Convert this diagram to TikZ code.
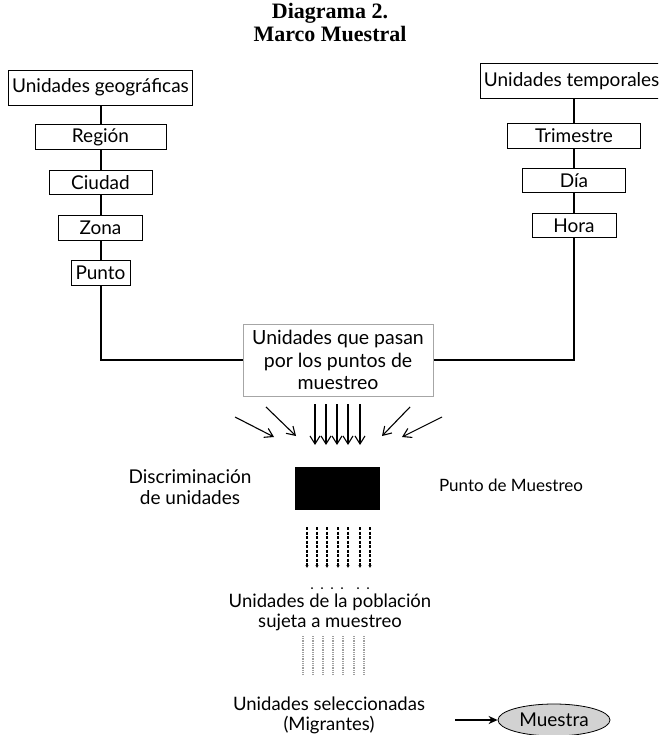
\documentclass[tikz,border=0pt]{standalone}
\usepackage{fontspec}
\setmainfont{Liberation Serif}
\setsansfont{Lato}
\usetikzlibrary{arrows.meta, positioning, shapes.geometric}

\tikzset{
  unitbox/.style={draw, line width=0.8pt, minimum height=24.5pt, inner sep=1.5pt,
    font=\sffamily\fontsize{19}{22}\selectfont},
  topbox/.style={unitbox, minimum height=35pt, inner sep=3.5pt},
  tree/.style={line width=2pt},
  flow/.style={line width=1.1pt, -{Straight Barb[length=8pt,width=10pt]}},
  passed/.style={line width=1.4pt, dash pattern=on 3pt off 1.5pt,
    -{Latex[length=3pt,width=3.5pt]}},
  sampled/.style={line width=1.8pt, gray!75, dash pattern=on 1pt off 0.8pt},
  caption/.style={font=\sffamily\fontsize{18.5}{20}\selectfont, align=center},
}

\begin{document}
\begin{tikzpicture}[x=1pt, y=-1pt, node distance=20pt]
\path[use as bounding box, clip] (0,0) rectangle (658,735);

% title
\node (title) [font=\bfseries\fontsize{22}{23}\selectfont, align=center] at (330,23)
{Diagrama 2.\\Marco Muestral};

% geographic units
\node (geo) [topbox] at (100.5,87.5) {Unidades geográficas};
\node (region) [unitbox, minimum width=131pt, below=19pt of geo] {Región};
\node (city) [unitbox, minimum width=103pt, below=of region] {Ciudad};
\node (zone) [unitbox, minimum width=84pt, below=of city] {Zona};
\node (spot) [unitbox, minimum width=59pt, below=of zone] {Punto};

% time units
\node (time) [topbox, anchor=west] at (480,81) {Unidades temporales};
\node (quarter) [unitbox, minimum width=133pt] at (574,136) {Trimestre};
\node (day) [unitbox, minimum width=103pt, below=19pt of quarter] {Día};
\node (hour) [unitbox, minimum width=84pt, below=of day] {Hora};

% passing units
\node (passing) [draw=gray!70, line width=1pt, minimum width=190pt, minimum height=72pt,
  caption, font=\sffamily\fontsize{19.5}{22.5}\selectfont] at (338,360)
{Unidades que pasan\\por los puntos de\\muestreo};

\draw[tree] (geo) -- (region) -- (city) -- (zone) -- (spot);
\draw[tree] (spot.south) |- (passing.west);
\draw[tree] (quarter.north |- time.south) -- (quarter) -- (day) -- (hour);
\draw[tree] (hour.south) |- (passing.east);

% converging flows
\foreach \sx/\sy/\ex/\ey [count=\i] in {235/417/274/437, 266/407/296/436,
  410/407/382/436, 442/417/402/437} {
  \coordinate (from\i) at (\sx,\sy);
  \coordinate (to\i) at (\ex,\ey);
  \draw[flow] (from\i) -- (to\i);
}
\foreach \x [count=\i] in {315,326,337,348,360} {
  \coordinate (down\i) at (\x,404);
  \coordinate (downend\i) at (\x,445);
  \draw[flow] (down\i) -- (downend\i);
}

% sampling point
\node (point) [fill=black, minimum width=85pt, minimum height=43pt] at (337.5,488.5) {};
\node (discr) [caption, font=\sffamily\fontsize{19}{21}\selectfont] at (190,487)
{Discriminación\\de unidades};
\node (pointlabel) [caption, font=\sffamily\fontsize{17}{20}\selectfont] at (511,485)
{Punto de Muestreo};

\foreach \x [count=\i] in {307,317,327,338,348,360,370} {
  \coordinate (pass\i) at (\x,527);
  \coordinate (passend\i) at (\x,568);
  \draw[passed] (pass\i) -- (passend\i);
}
\foreach \x in {312,322,332,342,358,368}
  \fill (\x,588) circle (1pt);

% population and sample
\node (population) [caption] at (330,612) {Unidades de la población\\sujeta a muestreo};
\foreach \x [count=\i] in {303,313,323,333,343,354,364} {
  \coordinate (pop\i) at (\x,636);
  \coordinate (popend\i) at (\x,675);
  \draw[sampled] (pop\i) -- (popend\i);
}
\node (selected) [caption] at (329,715) {Unidades seleccionadas\\(Migrantes)};
\node (sample) [ellipse, draw, line width=0.8pt, fill=gray!35, minimum width=112pt,
  minimum height=32pt, inner sep=1pt, font=\sffamily\fontsize{19}{22}\selectfont]
  at (554,720) {Muestra};
\coordinate (selectarrow) at (455,720);
\draw[line width=1.3pt, -{Stealth[length=9pt,width=8pt]}] (selectarrow) -- (sample.west);

\end{tikzpicture}
\end{document}
